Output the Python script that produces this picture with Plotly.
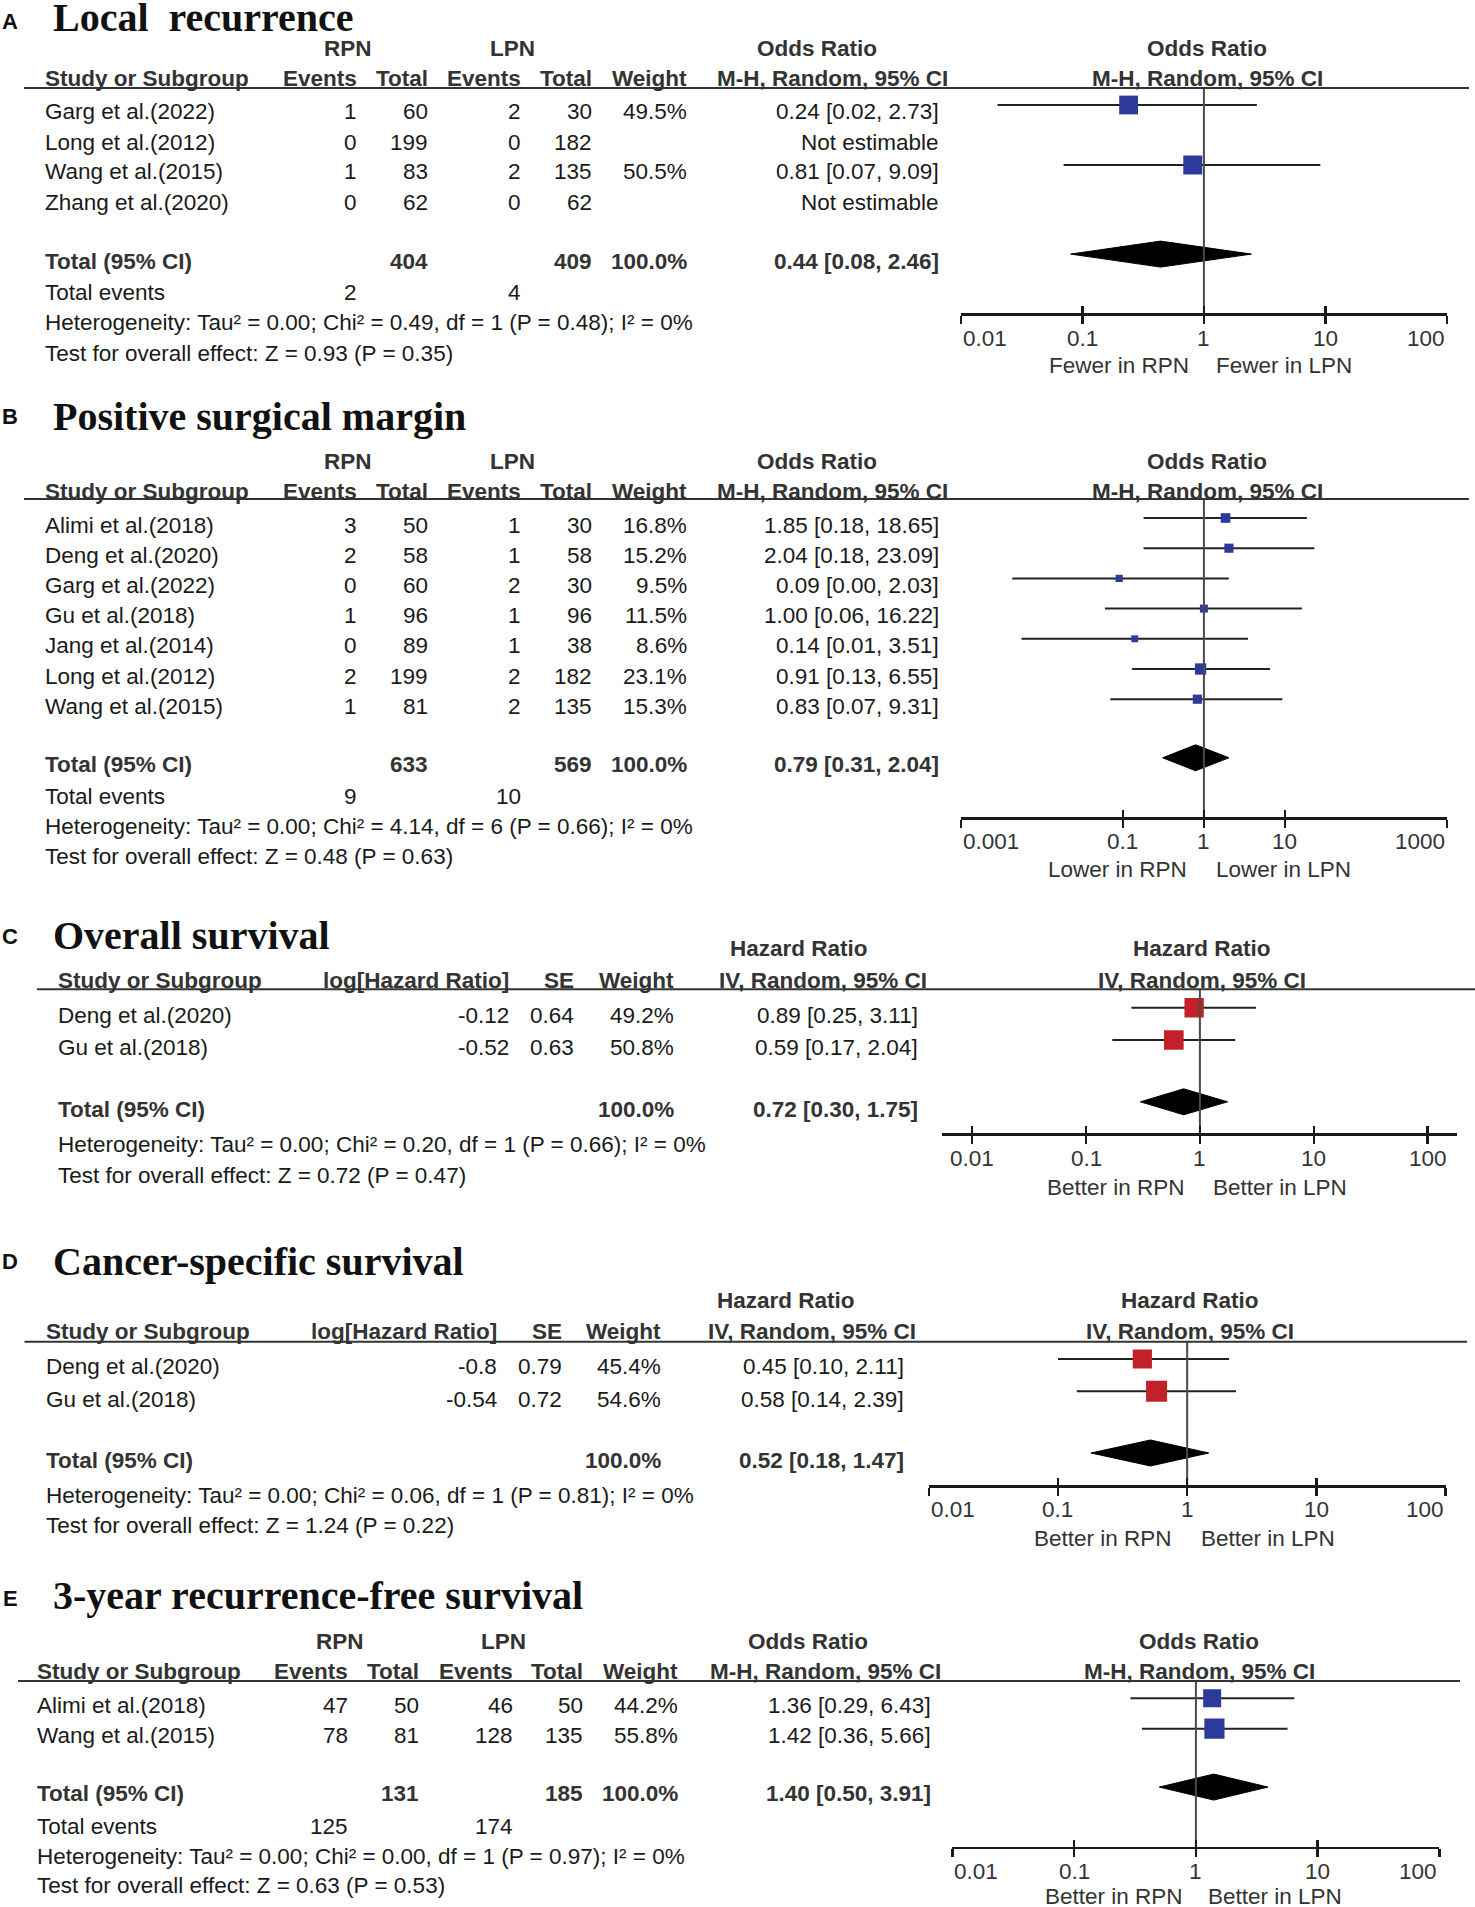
import math
import plotly.graph_objects as go

W, H = 1475, 1907
SANS = "Liberation Sans, Arial, sans-serif"
SERIF = "Liberation Serif, Times New Roman, serif"
INK = "#1a1a1a"
HEAD = "#333333"
AXC = "#1a1a1a"
NULLC = "#4a4a4a"
BLUE = "#2d3a9b"
RED = "#c32129"
FS = 22.5

# ---------------- A: Local recurrence ----------------
A_study = ["Garg et al.(2022)", "Long et al.(2012)", "Wang et al.(2015)", "Zhang et al.(2020)"]
A_rpn_events = [1, 0, 1, 0]
A_rpn_total = [60, 199, 83, 62]
A_lpn_events = [2, 0, 2, 0]
A_lpn_total = [30, 182, 135, 62]
A_weight = [49.5, None, 50.5, None]
A_or = [0.24, None, 0.81, None]
A_lo = [0.02, None, 0.07, None]
A_hi = [2.73, None, 9.09, None]
A_pooled = [0.44, 0.08, 2.46]
A_het = "Heterogeneity: Tau² = 0.00; Chi² = 0.49, df = 1 (P = 0.48); I² = 0%"
A_test = "Test for overall effect: Z = 0.93 (P = 0.35)"
A_ticks = [0.01, 0.1, 1, 10, 100]
A_tick_labels = ["0.01", "0.1", "1", "10", "100"]
A_dir = ["Fewer in RPN", "Fewer in LPN"]

# ---------------- B: Positive surgical margin ----------------
B_study = ["Alimi et al.(2018)", "Deng et al.(2020)", "Garg et al.(2022)", "Gu et al.(2018)",
           "Jang et al.(2014)", "Long et al.(2012)", "Wang et al.(2015)"]
B_rpn_events = [3, 2, 0, 1, 0, 2, 1]
B_rpn_total = [50, 58, 60, 96, 89, 199, 81]
B_lpn_events = [1, 1, 2, 1, 1, 2, 2]
B_lpn_total = [30, 58, 30, 96, 38, 182, 135]
B_weight = [16.8, 15.2, 9.5, 11.5, 8.6, 23.1, 15.3]
B_or = [1.85, 2.04, 0.09, 1.00, 0.14, 0.91, 0.83]
B_lo = [0.18, 0.18, 0.0043, 0.06, 0.0056, 0.13, 0.07]
B_hi = [18.65, 23.09, 2.03, 16.22, 3.51, 6.55, 9.31]
B_pooled = [0.79, 0.31, 2.04]
B_het = "Heterogeneity: Tau² = 0.00; Chi² = 4.14, df = 6 (P = 0.66); I² = 0%"
B_test = "Test for overall effect: Z = 0.48 (P = 0.63)"
B_ticks = [0.001, 0.1, 1, 10, 1000]
B_tick_labels = ["0.001", "0.1", "1", "10", "1000"]
B_dir = ["Lower in RPN", "Lower in LPN"]

# ---------------- C: Overall survival ----------------
C_study = ["Deng et al.(2020)", "Gu et al.(2018)"]
C_loghr = [-0.12, -0.52]
C_se = [0.64, 0.63]
C_weight = [49.2, 50.8]
C_hr = [0.89, 0.59]
C_lo = [0.25, 0.17]
C_hi = [3.11, 2.04]
C_pooled = [0.72, 0.30, 1.75]
C_het = "Heterogeneity: Tau² = 0.00; Chi² = 0.20, df = 1 (P = 0.66); I² = 0%"
C_test = "Test for overall effect: Z = 0.72 (P = 0.47)"
C_ticks = [0.01, 0.1, 1, 10, 100]
C_tick_labels = ["0.01", "0.1", "1", "10", "100"]
C_dir = ["Better in RPN", "Better in LPN"]

# ---------------- D: Cancer-specific survival ----------------
D_study = ["Deng et al.(2020)", "Gu et al.(2018)"]
D_loghr = [-0.8, -0.54]
D_se = [0.79, 0.72]
D_weight = [45.4, 54.6]
D_hr = [0.45, 0.58]
D_lo = [0.10, 0.14]
D_hi = [2.11, 2.39]
D_pooled = [0.52, 0.18, 1.47]
D_het = "Heterogeneity: Tau² = 0.00; Chi² = 0.06, df = 1 (P = 0.81); I² = 0%"
D_test = "Test for overall effect: Z = 1.24 (P = 0.22)"
D_ticks = [0.01, 0.1, 1, 10, 100]
D_tick_labels = ["0.01", "0.1", "1", "10", "100"]
D_dir = ["Better in RPN", "Better in LPN"]

# ---------------- E: 3-year recurrence-free survival ----------------
E_study = ["Alimi et al.(2018)", "Wang et al.(2015)"]
E_rpn_events = [47, 78]
E_rpn_total = [50, 81]
E_lpn_events = [46, 128]
E_lpn_total = [50, 135]
E_weight = [44.2, 55.8]
E_or = [1.36, 1.42]
E_lo = [0.29, 0.36]
E_hi = [6.43, 5.66]
E_pooled = [1.40, 0.50, 3.91]
E_het = "Heterogeneity: Tau² = 0.00; Chi² = 0.00, df = 1 (P = 0.97); I² = 0%"
E_test = "Test for overall effect: Z = 0.63 (P = 0.53)"
E_ticks = [0.01, 0.1, 1, 10, 100]
E_tick_labels = ["0.01", "0.1", "1", "10", "100"]
E_dir = ["Better in RPN", "Better in LPN"]

# ---------------- layout geometry (pixels) ----------------
EDGE = ["left", "center", "center", "center", "right"]
LA = dict(letter="A", title="Local\u00a0 recurrence", letter_y=22, title_y=18,
          grp_y=48, hdr_y=79, line_y=88, line_x=(24, 1469),
          row0=105, row_h=30, text_off=7, gap=0.97,
          events_y=292.7, het_y=323, test_y=353,
          axis_y=313, x_dom=(960.9, 1446.9), tick_px=(960.9, 1446.9), tick_y=338, tick_anchor=EDGE,
          dir_y=365.7, dir_x=(1191, 1214), k=2.67,
          cols=dict(study=42.5, ev1=359, tot1=430, ev2=523, tot2=594, wt=688.5, ci=941, cihdr=950,
                    rpn=348, lpn=512, ratio=817, fhdr=1207))
LB = dict(letter="B", title="Positive surgical margin", letter_y=416.7, title_y=416.7,
          grp_y=461.7, hdr_y=491.7, line_y=499, line_x=(24, 1469),
          row0=518, row_h=30.2, text_off=7, gap=0.94,
          events_y=796.7, het_y=826.7, test_y=856.7,
          axis_y=817.3, x_dom=(960.9, 1446.9), tick_px=(960.9, 1446.9), tick_y=841.7, tick_anchor=EDGE,
          dir_y=869.3, dir_x=(1189, 1214), k=2.35,
          cols=dict(study=42.5, ev1=359, tot1=430, ev2=523, tot2=594, wt=688.5, ci=941, cihdr=950,
                    rpn=348, lpn=512, ratio=817, fhdr=1207))
LC = dict(letter="C", title="Overall survival", letter_y=936.7, title_y=935,
          grp_y=948.3, hdr_y=980, line_y=989.3, line_x=(37, 1475),
          row0=1007.8, row_h=32.2, text_off=7.2, gap=0.92,
          het_y=1144, test_y=1175,
          axis_y=1133.3, x_dom=(942, 1457), tick_px=(972.2, 1427.6), tick_y=1158.3,
          tick_anchor=["center"] * 5,
          dir_y=1187.3, dir_x=(1187.4, 1210.5), k=2.76,
          cols=dict(study=55.5, loghr=511, se=576, wt=675.5, ci=920, cihdr=929.5, ratio=799, fhdr=1202))
LD = dict(letter="D", title="Cancer-specific survival", letter_y=1261.7, title_y=1261.7,
          grp_y=1300, hdr_y=1331, line_y=1341.7, line_x=(24.5, 1467),
          row0=1359, row_h=32.3, text_off=7.7, gap=0.91,
          het_y=1495, test_y=1525,
          axis_y=1485, x_dom=(928.8, 1445.5), tick_px=(928.8, 1445.5), tick_y=1509.3, tick_anchor=EDGE,
          dir_y=1538.3, dir_x=(1174, 1198.7), k=2.85,
          cols=dict(study=44, loghr=498.5, se=563.5, wt=663, ci=906, cihdr=918, ratio=786, fhdr=1190))
LE = dict(letter="E", title="3-year recurrence-free survival", letter_y=1598.3, title_y=1595,
          grp_y=1641.7, hdr_y=1671.7, line_y=1681, line_x=(18, 1460),
          row0=1698.3, row_h=30.4, text_off=6.7, gap=0.92,
          events_y=1826, het_y=1856, test_y=1885,
          axis_y=1846.7, x_dom=(952.4, 1439.4), tick_px=(952.4, 1439.4), tick_y=1871.7, tick_anchor=EDGE,
          dir_y=1896, dir_x=(1184.6, 1206), k=2.7,
          cols=dict(study=34.5, ev1=350, tot1=420.7, ev2=514.5, tot2=585, wt=679.6, ci=932.5, cihdr=943,
                    rpn=339.8, lpn=503.5, ratio=807.7, fhdr=1199))

ann = []
shapes = []
layout = {}
traces = []


def text(x, y, s, anchor="left", bold=False, color=INK, size=FS, family=SANS):
    ann.append(dict(x=x / W, y=1 - y / H, xref="paper", yref="paper",
                    text=f"<b>{s}</b>" if bold else s, showarrow=False,
                    xanchor=anchor, yanchor="middle",
                    font=dict(family=family, size=size, color=color)))


def row_y(L, r):
    return L["row0"] + r * L["row_h"] + L["text_off"]


def names(i):
    if i == 1:
        return "x", "y", "xaxis", "yaxis"
    return f"x{i}", f"y{i}", f"xaxis{i}", f"yaxis{i}"


def header(L):
    text(10, L["letter_y"], L["letter"], "center", bold=True, color="#111", size=22)
    text(51, L["title_y"], L["title"], "left", bold=True, color="#111", size=40, family=SERIF)
    x0, x1 = L["line_x"]
    yl = 1 - L["line_y"] / H
    shapes.append(dict(type="line", xref="paper", yref="paper", x0=x0 / W, x1=x1 / W, y0=yl, y1=yl,
                       line=dict(color="#333333", width=2)))


def forest(i, L, est, lo, hi, wt, pooled, color, ticks, tick_labels, dirs):
    xn, yn, xk, yk = names(i)
    on, _, ok, _ = names(i + 5)
    n = len(est)
    r0, rh = L["row0"], L["row_h"]
    y_top = (L["line_y"] - r0) / rh
    y_bot = (L["axis_y"] - r0) / rh
    lt0, lt1 = math.log10(ticks[0]), math.log10(ticks[-1])
    t0, t1 = L["tick_px"]
    d0, d1 = L["x_dom"]
    dec = (t1 - t0) / (lt1 - lt0)
    rng = [lt0 - (t0 - d0) / dec, lt1 + (d1 - t1) / dec]
    layout[yk] = dict(domain=[1 - L["axis_y"] / H, 1 - L["line_y"] / H], range=[y_bot, y_top],
                      visible=False, fixedrange=True)
    common = dict(type="log", range=rng, tickvals=ticks, showticklabels=False, showgrid=False,
                  zeroline=False, tickwidth=2.5, tickcolor=AXC, fixedrange=True)
    layout[xk] = dict(domain=[d0 / W, d1 / W], anchor=yn, showline=True, linecolor=AXC, linewidth=2.5,
                      ticks="outside", ticklen=8, **common)
    layout[ok] = dict(overlaying=xn, anchor=yn, showline=False, ticks="inside", ticklen=7, **common)

    # null line at ratio = 1
    traces.append(go.Scatter(x=[1, 1], y=[y_top, y_bot], xaxis=on, yaxis=yn, mode="lines",
                             line=dict(color=NULLC, width=2), hoverinfo="skip"))
    # confidence intervals
    cx, cy = [], []
    rows = [r for r in range(n) if est[r] is not None]
    for r in rows:
        cx += [lo[r], hi[r], None]
        cy += [r, r, None]
    traces.append(go.Scatter(x=cx, y=cy, xaxis=xn, yaxis=yn, mode="lines",
                             line=dict(color="#222222", width=2), hoverinfo="skip"))
    # study squares sized by weight
    traces.append(go.Scatter(x=[est[r] for r in rows], y=rows, xaxis=xn, yaxis=yn, mode="markers",
                             marker=dict(symbol="square", color=color, opacity=1, line=dict(width=0),
                                         size=[L["k"] * math.sqrt(wt[r]) for r in rows]),
                             hoverinfo="skip"))
    # pooled diamond
    d = n + L["gap"]
    hh = 13 / rh
    p, plo, phi = pooled
    traces.append(go.Scatter(x=[plo, p, phi, p, plo], y=[d, d - hh, d, d + hh, d], xaxis=xn, yaxis=yn,
                             mode="lines", fill="toself", fillcolor="black",
                             line=dict(color="black", width=1), hoverinfo="skip"))
    # tick labels
    for v, lab, anc in zip(ticks, tick_labels, L["tick_anchor"]):
        ann.append(dict(x=math.log10(v), y=1 - L["tick_y"] / H, xref=xn, yref="paper", text=lab,
                        xanchor=anc, yanchor="middle", showarrow=False,
                        font=dict(family=SANS, size=FS, color=HEAD)))
    text(L["dir_x"][0], L["dir_y"], dirs[0], "right", color=HEAD)
    text(L["dir_x"][1], L["dir_y"], dirs[1], "left", color=HEAD)


def fmt_ci(e, l, h):
    return f"{e:.2f} [{l:.2f}, {h:.2f}]"


def or_table(L, study, ev1, tot1, ev2, tot2, wt, est, lo, hi, pooled, het, test):
    c = L["cols"]
    g, h = L["grp_y"], L["hdr_y"]
    text(c["rpn"], g, "RPN", "center", bold=True, color=HEAD)
    text(c["lpn"], g, "LPN", "center", bold=True, color=HEAD)
    text(c["ratio"], g, "Odds Ratio", "center", bold=True, color=HEAD)
    text(c["fhdr"], g, "Odds Ratio", "center", bold=True, color=HEAD)
    text(c["study"], h, "Study or Subgroup", "left", bold=True, color=HEAD)
    text(c["ev1"], h, "Events", "right", bold=True, color=HEAD)
    text(c["tot1"], h, "Total", "right", bold=True, color=HEAD)
    text(c["ev2"], h, "Events", "right", bold=True, color=HEAD)
    text(c["tot2"], h, "Total", "right", bold=True, color=HEAD)
    text(c["wt"], h, "Weight", "right", bold=True, color=HEAD)
    text(c["cihdr"], h, "M-H, Random, 95% CI", "right", bold=True, color=HEAD)
    text(c["fhdr"], h, "M-H, Random, 95% CI", "center", bold=True, color=HEAD)
    n = len(study)
    for r in range(n):
        y = row_y(L, r)
        text(c["study"], y, study[r])
        text(c["ev1"], y, str(ev1[r]), "right")
        text(c["tot1"], y, str(tot1[r]), "right")
        text(c["ev2"], y, str(ev2[r]), "right")
        text(c["tot2"], y, str(tot2[r]), "right")
        if wt[r] is not None:
            text(c["wt"], y, f"{wt[r]:.1f}%", "right")
            text(c["ci"], y, fmt_ci(est[r], lo[r], hi[r]), "right")
        else:
            text(c["ci"], y, "Not estimable", "right")
    y = row_y(L, n + L["gap"])
    text(c["study"], y, "Total (95% CI)", "left", bold=True, color=HEAD)
    text(c["tot1"], y, str(sum(tot1)), "right", bold=True, color=HEAD)
    text(c["tot2"], y, str(sum(tot2)), "right", bold=True, color=HEAD)
    text(c["wt"], y, f"{sum(w for w in wt if w is not None):.1f}%", "right", bold=True, color=HEAD)
    text(c["ci"], y, fmt_ci(*pooled), "right", bold=True, color=HEAD)
    text(c["study"], L["events_y"], "Total events")
    text(c["ev1"], L["events_y"], str(sum(ev1)), "right")
    text(c["ev2"], L["events_y"], str(sum(ev2)), "right")
    text(c["study"], L["het_y"], het)
    text(c["study"], L["test_y"], test)


def hr_table(L, study, loghr, se, wt, est, lo, hi, pooled, het, test):
    c = L["cols"]
    g, h = L["grp_y"], L["hdr_y"]
    text(c["ratio"], g, "Hazard Ratio", "center", bold=True, color=HEAD)
    text(c["fhdr"], g, "Hazard Ratio", "center", bold=True, color=HEAD)
    text(c["study"], h, "Study or Subgroup", "left", bold=True, color=HEAD)
    text(c["loghr"], h, "log[Hazard Ratio]", "right", bold=True, color=HEAD)
    text(c["se"], h, "SE", "right", bold=True, color=HEAD)
    text(c["wt"], h, "Weight", "right", bold=True, color=HEAD)
    text(c["cihdr"], h, "IV, Random, 95% CI", "right", bold=True, color=HEAD)
    text(c["fhdr"], h, "IV, Random, 95% CI", "center", bold=True, color=HEAD)
    n = len(study)
    for r in range(n):
        y = row_y(L, r)
        text(c["study"], y, study[r])
        text(c["loghr"], y, f"{loghr[r]:g}", "right")
        text(c["se"], y, f"{se[r]:g}", "right")
        text(c["wt"], y, f"{wt[r]:.1f}%", "right")
        text(c["ci"], y, fmt_ci(est[r], lo[r], hi[r]), "right")
    y = row_y(L, n + L["gap"])
    text(c["study"], y, "Total (95% CI)", "left", bold=True, color=HEAD)
    text(c["wt"], y, f"{sum(wt):.1f}%", "right", bold=True, color=HEAD)
    text(c["ci"], y, fmt_ci(*pooled), "right", bold=True, color=HEAD)
    text(c["study"], L["het_y"], het)
    text(c["study"], L["test_y"], test)


# Panel A
header(LA)
or_table(LA, A_study, A_rpn_events, A_rpn_total, A_lpn_events, A_lpn_total, A_weight,
         A_or, A_lo, A_hi, A_pooled, A_het, A_test)
forest(1, LA, A_or, A_lo, A_hi, A_weight, A_pooled, BLUE, A_ticks, A_tick_labels, A_dir)

# Panel B
header(LB)
or_table(LB, B_study, B_rpn_events, B_rpn_total, B_lpn_events, B_lpn_total, B_weight,
         B_or, B_lo, B_hi, B_pooled, B_het, B_test)
forest(2, LB, B_or, B_lo, B_hi, B_weight, B_pooled, BLUE, B_ticks, B_tick_labels, B_dir)

# Panel C
header(LC)
hr_table(LC, C_study, C_loghr, C_se, C_weight, C_hr, C_lo, C_hi, C_pooled, C_het, C_test)
forest(3, LC, C_hr, C_lo, C_hi, C_weight, C_pooled, RED, C_ticks, C_tick_labels, C_dir)

# Panel D
header(LD)
hr_table(LD, D_study, D_loghr, D_se, D_weight, D_hr, D_lo, D_hi, D_pooled, D_het, D_test)
forest(4, LD, D_hr, D_lo, D_hi, D_weight, D_pooled, RED, D_ticks, D_tick_labels, D_dir)

# Panel E
header(LE)
or_table(LE, E_study, E_rpn_events, E_rpn_total, E_lpn_events, E_lpn_total, E_weight,
         E_or, E_lo, E_hi, E_pooled, E_het, E_test)
forest(5, LE, E_or, E_lo, E_hi, E_weight, E_pooled, BLUE, E_ticks, E_tick_labels, E_dir)

fig = go.Figure(data=traces)
fig.update_layout(
    width=W, height=H, autosize=False,
    margin=dict(l=0, r=0, t=0, b=0, pad=0),
    paper_bgcolor="white", plot_bgcolor="white",
    showlegend=False, hovermode=False,
    annotations=ann, shapes=shapes,
    font=dict(family=SANS, size=FS, color=INK),
    **layout,
)
fig.write_html("out.html", config={"displayModeBar": False, "staticPlot": True},
               post_script="document.body.style.margin='0px';document.body.style.overflow='hidden';")
